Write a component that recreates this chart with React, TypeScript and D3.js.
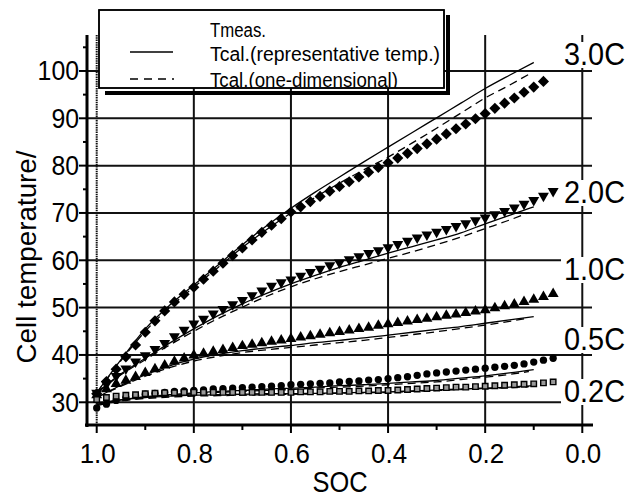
import React from "react";
import * as d3 from "d3";

// ---------- data ----------
const SOC_MEAS = [1.00,0.98,0.96,0.94,0.92,0.90,0.88,0.86,0.84,0.82,0.80,0.78,0.76,0.74,0.72,0.70,0.68,0.66,0.64,0.62,0.60,0.58,0.56,0.54,0.52,0.50,0.48,0.46,0.44,0.42,0.40,0.38,0.36,0.34,0.32,0.30,0.28,0.26,0.24,0.22,0.20,0.18,0.16,0.14,0.12,0.10,0.08,0.06];

const MEAS_30 = [31.8,34.4,37.0,39.6,42.1,44.8,47.2,49.3,51.2,52.8,54.3,56.0,57.7,59.4,61.0,62.6,64.3,65.9,67.4,68.8,70.2,71.3,72.4,73.5,74.6,75.6,76.6,77.6,78.6,79.6,80.6,81.6,82.6,83.6,84.6,85.6,86.7,87.8,88.8,89.9,91.0,92.1,93.2,94.3,95.5,96.6,97.8];
const MEAS_20 = [32.0,33.8,35.5,37.1,38.6,39.9,41.2,42.5,43.9,45.3,46.6,47.6,48.7,49.7,50.7,51.6,52.6,53.6,54.6,55.3,55.9,56.7,57.5,58.2,58.9,59.5,60.2,60.8,61.5,62.1,62.7,63.4,64.1,64.8,65.4,66.0,66.6,67.2,67.8,68.4,69.0,69.7,70.4,71.1,71.9,72.7,73.6,74.6];
const MEAS_10 = [31.5,32.8,33.9,34.6,35.4,36.2,37.0,37.8,38.6,39.3,39.9,40.3,40.7,41.1,41.5,41.9,42.2,42.5,42.8,43.1,43.4,43.7,44.0,44.3,44.6,44.9,45.2,45.5,45.8,46.2,46.5,46.8,47.1,47.4,47.7,48.0,48.3,48.6,48.9,49.2,49.5,49.9,50.3,50.7,51.2,51.7,52.3,52.9];
const MEAS_05 = [28.8,29.6,30.4,31.0,31.4,31.7,31.9,32.1,32.3,32.4,32.5,32.6,32.8,32.9,33.0,33.1,33.2,33.3,33.4,33.5,33.7,33.8,33.9,34.0,34.1,34.3,34.4,34.5,34.7,34.8,35.0,35.2,35.4,35.7,36.0,36.2,36.4,36.6,36.8,37.0,37.2,37.4,37.6,37.8,38.1,38.5,38.9,39.3];
const MEAS_02 = [30.6,31.0,31.3,31.5,31.6,31.8,31.9,32.0,32.0,32.1,32.1,32.1,32.1,32.1,32.1,32.1,32.1,32.1,32.1,32.1,32.1,32.2,32.2,32.2,32.3,32.3,32.3,32.4,32.4,32.5,32.5,32.6,32.7,32.8,32.9,33.0,33.1,33.2,33.2,33.3,33.4,33.5,33.6,33.7,33.8,33.9,34.1,34.3];

const SOC_SOLID = [1.00,0.95,0.90,0.85,0.80,0.75,0.70,0.65,0.60,0.55,0.50,0.45,0.40,0.35,0.30,0.25,0.20,0.15,0.10];
const SOC_DASH = [1.00,0.95,0.90,0.85,0.80,0.75,0.70,0.65,0.60,0.55,0.50,0.45,0.40,0.35,0.30,0.25,0.20,0.15,0.11];

const SOLID_30 = [32.0,39.0,45.5,50.5,54.8,59.0,63.3,67.3,71.0,74.4,77.6,80.8,83.9,87.0,90.1,93.2,96.3,99.1,101.8];
const DASH_30 = [32.0,38.8,45.0,50.0,54.3,58.5,62.7,66.5,70.0,73.3,76.3,79.1,81.8,84.8,87.9,91.1,94.3,97.0,99.3];
const SOLID_20 = [32.0,36.0,39.3,42.5,45.5,48.3,50.8,53.0,55.0,56.8,58.5,60.0,61.5,62.9,64.3,65.8,67.7,69.5,71.3];
const DASH_20 = [32.0,35.8,39.0,42.1,45.0,47.7,50.1,52.4,54.4,56.1,57.6,59.0,60.4,61.8,63.3,64.9,66.7,68.5,70.1];
const SOLID_10 = [31.0,33.6,35.8,37.7,39.1,40.1,40.9,41.5,42.0,42.6,43.1,43.6,44.2,44.8,45.4,46.0,46.7,47.4,48.1];
const DASH_10 = [31.0,33.4,35.5,37.3,38.7,39.7,40.5,41.1,41.6,42.1,42.6,43.1,43.7,44.3,44.9,45.6,46.3,47.1,47.8];
const SOLID_05 = [29.5,30.5,31.2,31.6,32.0,32.3,32.5,32.8,33.0,33.2,33.5,33.7,34.0,34.3,34.6,35.1,35.6,36.2,36.9];
const DASH_05 = [29.3,30.3,31.0,31.4,31.8,32.1,32.3,32.5,32.7,33.0,33.2,33.4,33.7,34.0,34.3,34.8,35.3,35.9,36.5];
const SOLID_02 = [29.8,30.5,31.0,31.3,31.5,31.6,31.7,31.8,31.8,31.9,32.0,32.1,32.2,32.4,32.6,32.8,33.0,33.2,33.5];
const DASH_02 = [29.6,30.3,30.8,31.1,31.3,31.4,31.5,31.6,31.7,31.8,31.9,32.0,32.1,32.3,32.5,32.7,32.9,33.1,33.3];

const RATE_LABELS = ["3.0C", "2.0C", "1.0C", "0.5C", "0.2C"];
const RATE_LABEL_Y = [65, 203, 280, 350, 402];

const X_TICKS = [1.0, 0.8, 0.6, 0.4, 0.2, 0.0];
const X_TICK_LABELS = ["1.0", "0.8", "0.6", "0.4", "0.2", "0.0"];
const X_MINOR = [0.9, 0.7, 0.5, 0.3, 0.1];
const Y_TICKS = [30, 40, 50, 60, 70, 80, 90, 100];
const Y_MINOR = [35, 45, 55, 65, 75, 85, 95, 105];

const LEGEND_LABELS = ["Tmeas.", "Tcal.(representative temp.)", "Tcal.(one-dimensional)"];

// ---------- layout ----------
const W = 635, H = 497;
const X0 = 87, X1 = 592, Y0 = 425, Y1 = 35;
const FONT = "'Liberation Sans', Arial, Helvetica, sans-serif";

const x = d3.scaleLinear().domain([1.02, -0.02]).range([X0, X1]);
const y = d3.scaleLinear().domain([25.2, 107.6]).range([Y0, Y1]);

type Marker = "diamond" | "tridown" | "triup" | "circle" | "square";

const SERIES: { meas: number[]; marker: Marker; solid: number[]; dash: number[] }[] = [
  { meas: MEAS_30, marker: "diamond", solid: SOLID_30, dash: DASH_30 },
  { meas: MEAS_20, marker: "tridown", solid: SOLID_20, dash: DASH_20 },
  { meas: MEAS_10, marker: "triup", solid: SOLID_10, dash: DASH_10 },
  { meas: MEAS_05, marker: "circle", solid: SOLID_05, dash: DASH_05 },
  { meas: MEAS_02, marker: "square", solid: SOLID_02, dash: DASH_02 },
];

const lineGen = d3
  .line<[number, number]>()
  .x((d) => x(d[0]))
  .y((d) => y(d[1]))
  .curve(d3.curveMonotoneX);

const symTri = d3.symbol().type(d3.symbolTriangle).size(52)();
const symCircle = d3.symbol().type(d3.symbolCircle).size(42)();
const symSquare = d3.symbol().type(d3.symbolSquare).size(30)();
const symDiamond = d3.symbol().type(d3.symbolSquare).size(62)();

function MarkerShape({ kind, cx, cy }: { kind: Marker; cx: number; cy: number }) {
  if (kind === "diamond")
    return <path d={symDiamond!} transform={`translate(${cx},${cy}) rotate(45)`} fill="#000" />;
  if (kind === "tridown")
    return <path d={symTri!} transform={`translate(${cx},${cy}) rotate(180)`} fill="#000" />;
  if (kind === "triup")
    return <path d={symTri!} transform={`translate(${cx},${cy})`} fill="#000" />;
  if (kind === "circle")
    return <path d={symCircle!} transform={`translate(${cx},${cy})`} fill="#000" />;
  return (
    <path d={symSquare!} transform={`translate(${cx},${cy})`} fill="#999" stroke="#000" strokeWidth={1.4} />
  );
}

export default function App() {
  return (
    <svg width={W} height={H} style={{ position: "absolute", left: 0, top: 0, background: "#fff" }}>
      <defs>
        <clipPath id="legclip">
          <rect x={99} y={10} width={345} height={78} />
        </clipPath>
      </defs>
      <rect x={0} y={0} width={W} height={H} fill="#fff" />

      {/* grid */}
      <g stroke="#111" strokeWidth={2}>
        {Y_TICKS.map((v) => (
          <line key={"gy" + v} x1={X0} x2={X1} y1={y(v)} y2={y(v)} />
        ))}
        {X_TICKS.map((v) => (
          <line key={"gx" + v} x1={x(v)} x2={x(v)} y1={Y1} y2={Y0} strokeDasharray={v === 1.0 ? "1.5,0.8" : undefined} />
        ))}
      </g>

      {/* rate labels with white backgrounds */}
      {RATE_LABELS.map((t, i) => (
        <g key={t}>
          <rect x={561} y={RATE_LABEL_Y[i] - 23} width={72} height={26} fill="#fff" />
          <text
            x={564}
            y={RATE_LABEL_Y[i]}
            fontFamily={FONT}
            fontSize={31}
            textLength={61}
            lengthAdjust="spacingAndGlyphs"
            fill="#000"
          >
            {t}
          </text>
        </g>
      ))}

      {/* calculated lines */}
      {SERIES.map((s, i) => (
        <g key={"calc" + i} fill="none" stroke="#000" strokeWidth={1.3}>
          <path d={lineGen(SOC_SOLID.map((v, j) => [v, s.solid[j]] as [number, number]))!} />
          <path d={lineGen(SOC_DASH.map((v, j) => [v, s.dash[j]] as [number, number]))!} strokeDasharray="8,5" />
        </g>
      ))}

      {/* measured markers */}
      {SERIES.map((s, i) => (
        <g key={"meas" + i}>
          {s.meas.map((v, j) => (
            <MarkerShape key={j} kind={s.marker} cx={x(SOC_MEAS[j])} cy={y(v)} />
          ))}
        </g>
      ))}

      {/* axes */}
      <g stroke="#000">
        <line x1={X0} x2={X0} y1={Y1} y2={Y0 + 2} strokeWidth={3} />
        <line x1={X0 - 2} x2={X1 + 1} y1={Y0} y2={Y0} strokeWidth={3} />
        {Y_TICKS.map((v) => (
          <line key={"ty" + v} x1={X0 - 8} x2={X0} y1={y(v)} y2={y(v)} strokeWidth={2} />
        ))}
        {Y_MINOR.map((v) => (
          <line key={"my" + v} x1={X0 - 4} x2={X0} y1={y(v)} y2={y(v)} strokeWidth={2} />
        ))}
        {X_TICKS.map((v) => (
          <line key={"tx" + v} x1={x(v)} x2={x(v)} y1={Y0} y2={Y0 + 8} strokeWidth={2} />
        ))}
        {X_MINOR.map((v) => (
          <line key={"mx" + v} x1={x(v)} x2={x(v)} y1={Y0} y2={Y0 + 5} strokeWidth={2} />
        ))}
      </g>

      {/* tick labels */}
      <g fontFamily={FONT} fill="#000">
        {Y_TICKS.map((v) => (
          <text
            key={"ly" + v}
            x={79}
            y={y(v) + 9.5}
            fontSize={27}
            textAnchor="end"
            textLength={String(v).length * 13.8}
            lengthAdjust="spacingAndGlyphs"
          >
            {v}
          </text>
        ))}
        {X_TICK_LABELS.map((t, i) => (
          <text
            key={"lx" + t}
            x={x(X_TICKS[i]) + 1}
            y={463}
            fontSize={28}
            textAnchor="middle"
            textLength={36}
            lengthAdjust="spacingAndGlyphs"
          >
            {t}
          </text>
        ))}
        <text x={340} y={492} fontSize={29} textAnchor="middle" textLength={55} lengthAdjust="spacingAndGlyphs">
          SOC
        </text>
        <text
          transform={`translate(36,257) rotate(-90)`}
          fontSize={27}
          textAnchor="middle"
          textLength={213}
          lengthAdjust="spacingAndGlyphs"
        >
          Cell temperature/
        </text>
      </g>

      {/* legend */}
      <g>
        <line x1={448} x2={448} y1={15} y2={95} stroke="#000" strokeWidth={4} />
        <line x1={105} x2={450} y1={93} y2={93} stroke="#000" strokeWidth={4} />
        <rect x={99} y={10} width={345} height={78} fill="#fff" stroke="#000" strokeWidth={1.5} />
        <g clipPath="url(#legclip)" fontFamily={FONT} fill="#000" fontSize={19.5}>
          <text x={210} y={37} textLength={56} lengthAdjust="spacingAndGlyphs">
            {LEGEND_LABELS[0]}
          </text>
          <text x={210} y={61} textLength={230} lengthAdjust="spacingAndGlyphs">
            {LEGEND_LABELS[1]}
          </text>
          <text x={210} y={87} textLength={188} lengthAdjust="spacingAndGlyphs">
            {LEGEND_LABELS[2]}
          </text>
        </g>
        <line x1={130} x2={173} y1={52} y2={52} stroke="#000" strokeWidth={1.3} />
        <line x1={130} x2={174} y1={79} y2={79} stroke="#000" strokeWidth={1.3} strokeDasharray="8,6" />
        <rect x={99} y={10} width={345} height={78} fill="none" stroke="#000" strokeWidth={1.5} />
      </g>
    </svg>
  );
}
